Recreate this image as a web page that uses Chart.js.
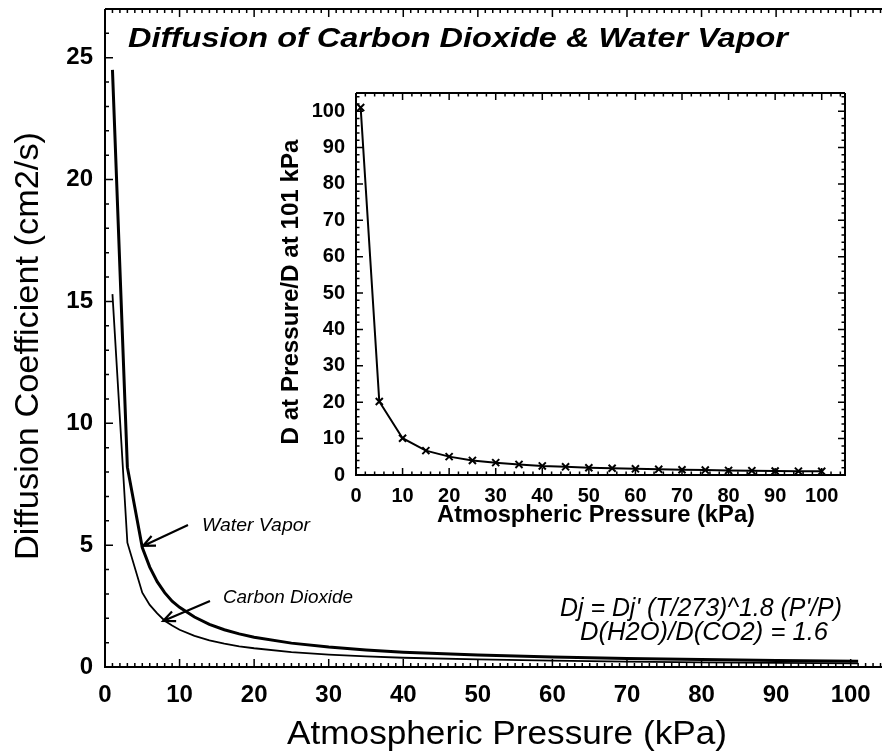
<!DOCTYPE html>
<html>
<head>
<meta charset="utf-8">
<script src="https://cdn.jsdelivr.net/npm/chart.js@4.4.1/dist/chart.umd.min.js"></script>
<style>
  body { margin: 0; background: #fff; }
  #wrap { position: relative; width: 882px; height: 752px; background: #fff; }
  #main { position: absolute; left: 0; top: 0; }
  #inset { position: absolute; left: 230px; top: 80px; }
</style>
</head>
<body>
<div id="wrap">
  <canvas id="main" width="882" height="752"></canvas>
  <canvas id="inset" width="630" height="470"></canvas>
</div>
<script>
// main plot: diffusion coefficient (cm2/s) against pressure (kPa)
const pressure = [1, 3, 5, 6, 7, 8, 9, 10, 12, 14, 16, 18, 20, 25, 30, 35, 40, 50, 60, 70, 80, 90, 101];
const waterVapor = [24.5, 8.2, 4.9, 4.1, 3.5, 3.05, 2.7, 2.45, 2.05, 1.75, 1.53, 1.36, 1.22, 0.98, 0.82, 0.70, 0.61, 0.49, 0.41, 0.35, 0.31, 0.27, 0.24];
const carbonDioxide = [15.3, 5.1, 3.05, 2.55, 2.2, 1.9, 1.7, 1.53, 1.28, 1.09, 0.96, 0.85, 0.77, 0.61, 0.51, 0.44, 0.38, 0.31, 0.26, 0.22, 0.19, 0.17, 0.15];

// inset: D at pressure / D at 101 kPa
const insetPressure = [1, 5, 10, 15, 20, 25, 30, 35, 40, 45, 50, 55, 60, 65, 70, 75, 80, 85, 90, 95, 100];
const insetRatio = [101, 20.2, 10.1, 6.7, 5.05, 4.0, 3.4, 2.9, 2.5, 2.25, 2.0, 1.85, 1.7, 1.55, 1.45, 1.35, 1.25, 1.2, 1.1, 1.05, 1.01];

const FAMILY = "'Liberation Sans', Arial, Helvetica, sans-serif";
Chart.defaults.font.family = FAMILY;
Chart.defaults.color = '#000';

function pts(xs, ys) {
  return xs.map((v, i) => ({ x: v, y: ys[i] }));
}

// text squeezed/stretched to the width seen in the scan
function fitText(ctx, text, x, y, font, width, align, rot) {
  ctx.save();
  ctx.font = font;
  const w = ctx.measureText(text).width;
  ctx.translate(x, y);
  if (rot) ctx.rotate(rot);
  ctx.scale(width / w, 1);
  ctx.textAlign = align;
  ctx.textBaseline = 'alphabetic';
  ctx.fillStyle = '#000';
  ctx.fillText(text, 0, 0);
  ctx.restore();
}

function arrow(ctx, x0, y0, x1, y1) {
  const ang = Math.atan2(y1 - y0, x1 - x0);
  const len = 13, spread = 0.42;
  ctx.save();
  ctx.strokeStyle = '#000';
  ctx.lineWidth = 2.2;
  ctx.beginPath();
  ctx.moveTo(x0, y0);
  ctx.lineTo(x1, y1);
  ctx.moveTo(x1 - len * Math.cos(ang - spread), y1 - len * Math.sin(ang - spread));
  ctx.lineTo(x1, y1);
  ctx.lineTo(x1 - len * Math.cos(ang + spread), y1 - len * Math.sin(ang + spread));
  ctx.stroke();
  ctx.restore();
}

// fixed axis boxes so the plot area lands where it is in the scan
function fixX(h) {
  return s => { s.height = h; s.paddingLeft = 0; s.paddingRight = 0; };
}
function fixY(w) {
  return s => { s.width = w; s.paddingTop = 0; s.paddingBottom = 0; };
}

// IDL style box with inward ticks
const framePlugin = {
  id: 'frame',
  afterDraw(chart, args, o) {
    const { ctx, chartArea: a, scales: { x, y } } = chart;
    ctx.save();
    ctx.strokeStyle = '#000';
    ctx.lineWidth = 2;
    ctx.beginPath();
    ctx.moveTo(a.left, a.top);
    ctx.lineTo(a.left, a.bottom);
    ctx.lineTo(a.right, a.bottom);
    if (o.right) ctx.lineTo(a.right, a.top);
    ctx.moveTo(a.right, a.top);
    ctx.lineTo(a.left, a.top);
    ctx.stroke();

    ctx.lineWidth = 1.5;
    ctx.beginPath();
    for (let i = 0; i * o.xMinor <= x.max + 1e-9; i++) {
      const v = i * o.xMinor;
      const px = x.getPixelForValue(v);
      const L = Math.abs(v % o.xMajor) < 1e-6 ? o.major : o.minor;
      ctx.moveTo(px, a.bottom); ctx.lineTo(px, a.bottom - L);
      ctx.moveTo(px, a.top); ctx.lineTo(px, a.top + L);
    }
    for (let i = 0; i * o.yMinor <= y.max + 1e-9; i++) {
      const v = i * o.yMinor;
      const py = y.getPixelForValue(v);
      const L = Math.abs(v % o.yMajor) < 1e-6 ? o.major : o.minor;
      ctx.moveTo(a.left, py); ctx.lineTo(a.left + L, py);
      if (o.right) { ctx.moveTo(a.right, py); ctx.lineTo(a.right - L, py); }
    }
    ctx.stroke();
    ctx.restore();
  }
};

const mainNotes = {
  id: 'mainNotes',
  afterDraw(chart) {
    const { ctx, scales: { x, y } } = chart;
    fitText(ctx, 'Diffusion of Carbon Dioxide & Water Vapor', 458, 47, 'italic bold 28px ' + FAMILY, 660, 'center');
    fitText(ctx, 'Diffusion Coefficient (cm2/s)', 38, 346, '34px ' + FAMILY, 428, 'center', -Math.PI / 2);
    fitText(ctx, 'Atmospheric Pressure (kPa)', 507, 744, '34px ' + FAMILY, 440, 'center');

    fitText(ctx, 'Water Vapor', 202, 531, 'italic 19px ' + FAMILY, 108, 'left');
    arrow(ctx, 188, 525, x.getPixelForValue(5.1), y.getPixelForValue(4.97));
    fitText(ctx, 'Carbon Dioxide', 223, 603, 'italic 19px ' + FAMILY, 130, 'left');
    arrow(ctx, 210, 601, x.getPixelForValue(7.8), y.getPixelForValue(1.89));

    fitText(ctx, "Dj = Dj' (T/273)^1.8 (P'/P)", 701, 616, 'italic 25px ' + FAMILY, 282, 'center');
    fitText(ctx, 'D(H2O)/D(CO2) = 1.6', 704, 640, 'italic 25px ' + FAMILY, 248, 'center');
  }
};

const insetNotes = {
  id: 'insetNotes',
  afterDraw(chart) {
    const { ctx } = chart;
    fitText(ctx, 'D at Pressure/D at 101 kPa', 68, 212, 'bold 24px ' + FAMILY, 305, 'center', -Math.PI / 2);
    fitText(ctx, 'Atmospheric Pressure (kPa)', 366, 442, 'bold 24px ' + FAMILY, 318, 'center');
  }
};

new Chart(document.getElementById('main'), {
  type: 'line',
  data: {
    datasets: [
      { label: 'Water Vapor', data: pts(pressure, waterVapor), borderColor: '#000', borderWidth: 3, pointRadius: 0, tension: 0 },
      { label: 'Carbon Dioxide', data: pts(pressure, carbonDioxide), borderColor: '#000', borderWidth: 1.8, pointRadius: 0, tension: 0 }
    ]
  },
  options: {
    responsive: false,
    animation: false,
    devicePixelRatio: 1,
    layout: { padding: { top: 9, right: 0, bottom: 0, left: 0 } },
    plugins: {
      legend: { display: false },
      tooltip: { enabled: false },
      frame: { xMinor: 1, xMajor: 10, yMinor: 1, yMajor: 5, major: 8, minor: 4, right: false }
    },
    scales: {
      x: {
        type: 'linear', min: 0, max: 104.2,
        grid: { display: false, drawTicks: false }, border: { display: false },
        ticks: { stepSize: 10, includeBounds: false, autoSkip: false, maxRotation: 0, padding: 14, font: { size: 24, weight: 'bold' } },
        afterFit: fixX(85)
      },
      y: {
        type: 'linear', min: 0, max: 27,
        grid: { display: false, drawTicks: false }, border: { display: false },
        ticks: { stepSize: 5, includeBounds: false, padding: 12, font: { size: 24, weight: 'bold' } },
        afterFit: fixY(105)
      }
    }
  },
  plugins: [framePlugin, mainNotes]
});

new Chart(document.getElementById('inset'), {
  type: 'line',
  data: {
    datasets: [
      { label: 'ratio', data: pts(insetPressure, insetRatio), borderColor: '#000', borderWidth: 2, tension: 0,
        pointStyle: 'crossRot', pointRadius: 5, pointBorderWidth: 2, pointBorderColor: '#000' }
    ]
  },
  options: {
    responsive: false,
    animation: false,
    devicePixelRatio: 1,
    layout: { padding: { top: 13, right: 15, bottom: 0, left: 0 } },
    plugins: {
      legend: { display: false },
      tooltip: { enabled: false },
      frame: { xMinor: 2, xMajor: 10, yMinor: 2, yMajor: 10, major: 7, minor: 3.5, right: true }
    },
    scales: {
      x: {
        type: 'linear', min: 0, max: 105,
        grid: { display: false, drawTicks: false }, border: { display: false },
        ticks: { stepSize: 10, includeBounds: false, autoSkip: false, maxRotation: 0, padding: 9, font: { size: 20, weight: 'bold' } },
        afterFit: fixX(75)
      },
      y: {
        type: 'linear', min: 0, max: 105,
        grid: { display: false, drawTicks: false }, border: { display: false },
        ticks: { stepSize: 10, includeBounds: false, autoSkip: false, padding: 11, font: { size: 20, weight: 'bold' } },
        afterFit: fixY(126)
      }
    }
  },
  plugins: [framePlugin, insetNotes]
});
</script>
</body>
</html>
